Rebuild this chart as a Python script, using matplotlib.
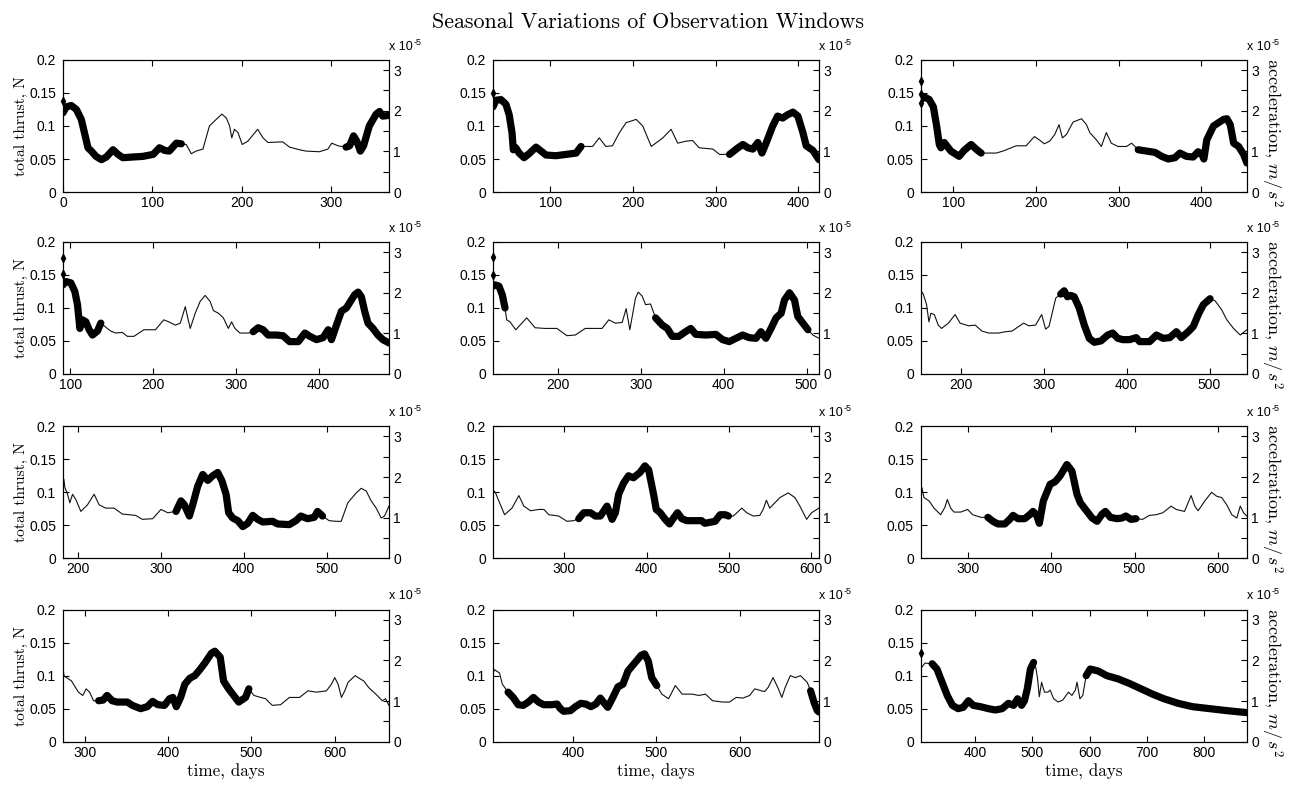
import numpy as np
import matplotlib
matplotlib.use('Agg')
import matplotlib.pyplot as plt
from matplotlib.ticker import MultipleLocator

plt.rcParams['font.family'] = 'Liberation Sans'
plt.rcParams['mathtext.fontset'] = 'cm'
serif = 'cmr10'

# x range of every panel, days (launch one month apart)
xlims = [(0, 365), (30.4, 425), (60.8, 455), (91.3, 485), (121.7, 515), (152.1, 545),
         (182.5, 575), (212.9, 610), (243.3, 635), (273.8, 665), (304.2, 695), (305, 875)]

# observation windows (drawn thick), days
win_a = [(0, 137), (316, 502), (685, 900)]
win_b = [(0, 137), (316, 502), (594, 900)]
windows = [win_a] * 11 + [win_b]

t1 = [0, 3.7, 9.3, 15, 20.5, 24, 28, 31.7, 37, 43, 48.5, 56, 61.6, 67, 78, 89.5, 101, 108, 114, 119,
      127, 132.5, 138, 143.7, 149, 156.7, 164, 171.6, 178, 183, 186.6, 189, 192, 196, 200.7, 207, 218, 224, 229.5, 246,
      253.7, 265, 272, 287, 296.6, 301, 308, 317, 321, 325.4, 329, 333, 336.6, 343, 350.7, 354.5, 358, 365]
f1 = [0.12, 0.129, 0.131, 0.125, 0.11, 0.09, 0.067, 0.062, 0.054, 0.049, 0.053, 0.064, 0.057, 0.052, 0.053, 0.054, 0.057, 0.067, 0.063, 0.062,
      0.074, 0.073, 0.072, 0.058, 0.062, 0.065, 0.1, 0.11, 0.118, 0.112, 0.1, 0.082, 0.095, 0.09, 0.072, 0.077, 0.095, 0.082, 0.075, 0.076,
      0.068, 0.064, 0.062, 0.061, 0.065, 0.074, 0.07, 0.068, 0.07, 0.085, 0.077, 0.062, 0.07, 0.1, 0.118, 0.122, 0.115, 0.116]
s1 = [0.138]

t2 = [30.4, 34, 40, 46, 50, 53.4, 55, 58, 62, 68, 74, 82.5, 88.6, 94.6, 106.7, 119, 131, 137, 151, 159,
      167, 175, 183.5, 191.5, 203.7, 211.7, 222, 236, 246, 254, 264, 272, 280, 296.6, 304.6, 316.8, 327, 333, 339, 345,
      351, 356, 361, 369, 375, 381, 387, 393.5, 399.5, 405.6, 409.6, 417.7, 425]
f2 = [0.129, 0.139, 0.14, 0.133, 0.117, 0.09, 0.064, 0.067, 0.059, 0.052, 0.058, 0.068, 0.062, 0.056, 0.055, 0.057, 0.059, 0.069, 0.069, 0.082,
      0.069, 0.07, 0.09, 0.105, 0.11, 0.1, 0.069, 0.082, 0.095, 0.074, 0.077, 0.078, 0.067, 0.065, 0.057, 0.057, 0.067, 0.072, 0.067, 0.065,
      0.075, 0.059, 0.074, 0.1, 0.115, 0.112, 0.117, 0.121, 0.115, 0.09, 0.07, 0.063, 0.049]
s2 = [0.15]

t3 = [60.8, 64.9, 70.9, 75.8, 79.8, 83, 85, 89, 97, 107, 113, 121.5, 127.5, 133.6, 145.7, 151.8, 160, 176, 188, 198,
      204, 210, 216.5, 222.6, 227.8, 231.9, 236.7, 244.8, 255, 261, 265, 273, 279, 285, 291, 299, 309.5, 315.6, 323.6, 333.8,
      343.9, 352, 360, 368, 374, 382, 390, 396, 400.5, 403, 406.5, 414.6, 420.7, 426.8, 430.8, 434.9, 439, 445, 451, 455]
f3 = [0.14, 0.144, 0.14, 0.129, 0.1, 0.072, 0.067, 0.075, 0.062, 0.054, 0.063, 0.072, 0.065, 0.059, 0.059, 0.059, 0.062, 0.07, 0.07, 0.084,
      0.079, 0.073, 0.077, 0.087, 0.102, 0.082, 0.087, 0.106, 0.111, 0.102, 0.09, 0.079, 0.069, 0.09, 0.074, 0.069, 0.069, 0.074, 0.064, 0.062,
      0.06, 0.054, 0.05, 0.052, 0.059, 0.054, 0.053, 0.061, 0.057, 0.05, 0.079, 0.1, 0.105, 0.11, 0.111, 0.102, 0.074, 0.069, 0.057, 0.044]
s3 = [0.168, 0.148, 0.135]

t4 = [91.3, 94.8, 100.8, 105.6, 108.8, 111.7, 114.9, 118.9, 122.9, 126.9, 132.9, 137, 140.9, 148.9, 155, 163, 169, 177, 189, 203,
      213, 219, 227, 233, 239, 242, 245, 251, 257, 263, 269, 273, 279, 285, 291, 295, 299, 305, 315, 321,
      327, 333, 339, 349, 357, 365, 375.5, 383.5, 389.5, 397.5, 405.5, 411.6, 415.6, 421.6, 427.6, 433.6, 439.6, 443.6, 447.7, 451.7,
      455.7, 459.7, 465.7, 471.7, 477.7, 485]
f4 = [0.135, 0.14, 0.138, 0.125, 0.105, 0.069, 0.082, 0.079, 0.067, 0.059, 0.065, 0.077, 0.073, 0.065, 0.062, 0.063, 0.057, 0.057, 0.067, 0.067,
      0.082, 0.079, 0.074, 0.077, 0.102, 0.085, 0.069, 0.092, 0.11, 0.119, 0.11, 0.096, 0.092, 0.085, 0.069, 0.079, 0.069, 0.062, 0.062, 0.064,
      0.07, 0.067, 0.059, 0.059, 0.058, 0.049, 0.049, 0.062, 0.057, 0.052, 0.055, 0.067, 0.052, 0.074, 0.095, 0.1, 0.112, 0.12, 0.124, 0.117,
      0.095, 0.077, 0.069, 0.059, 0.052, 0.047]
s4 = [0.176, 0.152]

t5 = [121.7, 124, 128.9, 132.9, 136.2, 138.2, 142.2, 149.1, 162.4, 172.5, 184.6, 198.8, 210.9, 221, 233, 253.3, 261.4, 269.4, 277.5, 282.4,
      286.8, 293.7, 296.9, 301.7, 305.8, 311.8, 317.9, 326, 332, 338, 346, 354, 360.3, 366.4, 378.5, 390.6, 398.7, 406.8, 414.8, 422.9,
      431, 439, 445, 451, 457.2, 463.3, 469.4, 473.4, 479.5, 485.5, 489.5, 495.6, 501.7, 507.7, 515]
f5 = [0.133, 0.135, 0.133, 0.12, 0.1, 0.082, 0.079, 0.067, 0.085, 0.07, 0.069, 0.069, 0.058, 0.059, 0.069, 0.069, 0.082, 0.077, 0.078, 0.099,
      0.067, 0.115, 0.124, 0.118, 0.105, 0.106, 0.085, 0.074, 0.069, 0.057, 0.057, 0.064, 0.069, 0.06, 0.059, 0.06, 0.052, 0.049, 0.054, 0.059,
      0.055, 0.054, 0.064, 0.054, 0.069, 0.085, 0.092, 0.112, 0.123, 0.112, 0.087, 0.077, 0.067, 0.059, 0.054]
s5 = [0.177, 0.15]

t6 = [152.1, 154.9, 158.9, 161.7, 164.2, 168.2, 173, 177, 185.2, 193.3, 199.3, 209.4, 217.5, 225.6, 233.7, 245.8, 254, 262, 270, 276,
      282, 290.3, 297.6, 302.4, 306.5, 314.6, 320.6, 324.7, 328.7, 332.8, 336.8, 342.9, 349, 355, 361, 369, 377.3, 383.3, 389.4, 395.5,
      403.5, 411.6, 415.7, 427.8, 435.9, 444, 452, 460, 466, 474.3, 480.4, 486.4, 492.5, 500.6, 506.6, 514.7, 520.8, 528.9, 537, 545]
f6 = [0.126, 0.121, 0.105, 0.079, 0.092, 0.09, 0.074, 0.069, 0.077, 0.09, 0.077, 0.073, 0.074, 0.065, 0.062, 0.062, 0.064, 0.065, 0.072, 0.077,
      0.073, 0.074, 0.09, 0.068, 0.072, 0.115, 0.121, 0.126, 0.117, 0.119, 0.117, 0.1, 0.074, 0.054, 0.048, 0.05, 0.059, 0.062, 0.054, 0.052,
      0.052, 0.055, 0.049, 0.049, 0.059, 0.054, 0.055, 0.064, 0.055, 0.064, 0.072, 0.09, 0.105, 0.114, 0.111, 0.097, 0.082, 0.069, 0.059, 0.067]
s6 = []

t7 = [182.5, 183.5, 184.8, 188, 190.8, 194, 198, 204, 212, 220, 226, 234, 244, 254, 270, 278, 290.5, 300.5, 308.6, 318.6,
      324.6, 328.7, 334.7, 338.7, 344.7, 350.8, 356.8, 362.8, 368.8, 374, 378.9, 382, 386.9, 393, 399, 405, 411, 417, 423, 435,
      441, 455, 463, 469, 477, 485, 489, 495, 503, 511.5, 517.5, 525.5, 535.6, 541.6, 547.6, 553.6, 559.7, 565.7, 569.7, 575]
f7 = [0.12, 0.12, 0.107, 0.097, 0.084, 0.097, 0.089, 0.071, 0.081, 0.097, 0.081, 0.076, 0.076, 0.067, 0.065, 0.059, 0.06, 0.074, 0.069, 0.071,
      0.087, 0.081, 0.064, 0.081, 0.109, 0.127, 0.118, 0.125, 0.13, 0.117, 0.097, 0.069, 0.061, 0.057, 0.048, 0.053, 0.065, 0.059, 0.055, 0.056,
      0.052, 0.051, 0.057, 0.064, 0.06, 0.062, 0.071, 0.064, 0.057, 0.056, 0.056, 0.084, 0.099, 0.106, 0.102, 0.087, 0.076, 0.061, 0.064, 0.079]
s7 = []

t8 = [212.9, 216, 220, 227, 236, 244.4, 250.5, 258.6, 268.8, 274.8, 281, 293, 303, 311, 317.4, 323.5, 331.6, 337.6, 343.7, 351.8,
      358, 362, 366, 372, 378, 384, 392, 398, 402.5, 408.5, 411.8, 416.6, 422.7, 428, 432.9, 437.7, 443, 449, 461, 467,
      471, 483.5, 489.6, 495.7, 499.7, 505.8, 516, 522, 530, 538, 542, 546, 550, 562.5, 572.6, 580.7, 586.8, 595, 601, 610]
f8 = [0.104, 0.099, 0.087, 0.066, 0.076, 0.095, 0.079, 0.072, 0.074, 0.074, 0.066, 0.064, 0.056, 0.057, 0.06, 0.069, 0.069, 0.064, 0.064, 0.079,
      0.059, 0.069, 0.097, 0.114, 0.125, 0.122, 0.13, 0.14, 0.134, 0.097, 0.074, 0.069, 0.059, 0.052, 0.061, 0.069, 0.06, 0.057, 0.057, 0.057,
      0.053, 0.056, 0.066, 0.066, 0.064, 0.064, 0.076, 0.069, 0.064, 0.065, 0.074, 0.088, 0.076, 0.092, 0.099, 0.092, 0.079, 0.059, 0.069, 0.076]
s8 = []

t9 = [243.3, 244.5, 246.9, 253, 259, 267, 272, 275, 279, 283, 291, 299.4, 305.5, 315.6, 323.7, 329.8, 335.8, 344, 350, 354,
      360, 368, 374, 378, 382, 385.6, 390.4, 398.5, 404.6, 410.6, 418.7, 424.8, 430.8, 434.9, 441, 449, 455, 461, 465, 471,
      479, 485, 489.5, 495.6, 501.6, 509.7, 517.8, 525.9, 534, 544, 550, 560, 568, 572.4, 576.4, 584.5, 592.6, 598.7, 604.7, 610.8,
      616.9, 622.9, 627, 631, 635]
f9 = [0.109, 0.107, 0.092, 0.087, 0.076, 0.066, 0.077, 0.089, 0.076, 0.07, 0.07, 0.074, 0.066, 0.062, 0.062, 0.056, 0.052, 0.052, 0.059, 0.065,
      0.06, 0.06, 0.066, 0.071, 0.066, 0.053, 0.087, 0.112, 0.116, 0.125, 0.142, 0.132, 0.097, 0.084, 0.074, 0.061, 0.056, 0.067, 0.071, 0.062,
      0.06, 0.061, 0.064, 0.059, 0.06, 0.059, 0.065, 0.066, 0.069, 0.079, 0.074, 0.071, 0.095, 0.079, 0.072, 0.087, 0.1, 0.094, 0.092, 0.081,
      0.066, 0.061, 0.079, 0.069, 0.064]
s9 = []

t10 = [273.8, 275, 278, 284, 292.3, 297.6, 301.6, 305.7, 310.5, 316.6, 321.9, 326.7, 332.8, 338.9, 351, 357, 367, 375, 381.4, 387.5,
       395.6, 401.7, 405.7, 409.8, 415, 420, 426, 432, 438, 444, 452, 456, 462.5, 466.5, 472.6, 478.7, 484.7, 492.9, 496.9, 503,
       511, 517, 525, 535, 545.5, 557.7, 567.8, 578, 590, 596, 600, 604, 608, 612, 616, 624.5, 630.6, 634.7, 640.7, 650.9,
       657, 661, 665]
f10 = [0.112, 0.1, 0.097, 0.092, 0.075, 0.07, 0.08, 0.075, 0.062, 0.062, 0.063, 0.07, 0.062, 0.06, 0.06, 0.055, 0.05, 0.053, 0.061, 0.056,
       0.055, 0.065, 0.067, 0.053, 0.067, 0.087, 0.096, 0.1, 0.109, 0.119, 0.134, 0.137, 0.128, 0.092, 0.08, 0.07, 0.06, 0.067, 0.08, 0.07,
       0.067, 0.065, 0.055, 0.056, 0.067, 0.067, 0.077, 0.075, 0.077, 0.087, 0.097, 0.087, 0.067, 0.077, 0.09, 0.1, 0.095, 0.092, 0.082, 0.07,
       0.062, 0.065, 0.055]
s10 = []

t11 = [304.2, 306, 312, 315.4, 322.3, 328.4, 334.4, 340.5, 346.6, 352.7, 358.8, 364.8, 375, 381, 385, 389, 397, 403, 409.4, 415.5,
       421.6, 427.6, 432.9, 437.8, 441.8, 447.9, 454, 460, 466, 474, 482, 486, 490.4, 494.5, 500.6, 506.6, 514.7, 522.8, 531, 543,
       551, 559, 567.4, 579.6, 587.7, 595.8, 603.9, 612, 618, 626, 630, 634, 640, 646.4, 650.5, 654.5, 660.6, 666.7, 672.8, 680.9,
       685, 689, 693, 695]
f11 = [0.104, 0.109, 0.104, 0.087, 0.075, 0.067, 0.056, 0.055, 0.06, 0.067, 0.06, 0.056, 0.056, 0.057, 0.05, 0.046, 0.047, 0.053, 0.058, 0.057,
       0.053, 0.057, 0.066, 0.058, 0.052, 0.067, 0.083, 0.087, 0.107, 0.119, 0.131, 0.133, 0.122, 0.097, 0.085, 0.072, 0.065, 0.085, 0.072, 0.072,
       0.07, 0.072, 0.062, 0.06, 0.06, 0.067, 0.066, 0.07, 0.08, 0.077, 0.076, 0.082, 0.097, 0.08, 0.067, 0.082, 0.1, 0.097, 0.1, 0.09,
       0.077, 0.06, 0.047, 0.045]
s11 = []

t12 = [305, 312, 324.6, 333, 342, 351, 360, 370, 379, 388, 396.5, 409, 423, 435, 447, 458, 467, 474, 481, 486,
       491, 496.5, 502, 506, 509, 512, 516, 521, 527, 531, 537, 545, 553, 563, 569, 575, 578, 583, 588, 594,
       601, 615, 630, 650, 670, 690, 710, 730, 755, 780, 810, 840, 875]
f12 = [0.111, 0.119, 0.118, 0.11, 0.09, 0.07, 0.055, 0.05, 0.052, 0.062, 0.055, 0.053, 0.05, 0.048, 0.05, 0.058, 0.055, 0.065, 0.055, 0.062,
       0.08, 0.11, 0.12, 0.112, 0.095, 0.068, 0.09, 0.075, 0.075, 0.078, 0.065, 0.06, 0.063, 0.075, 0.07, 0.078, 0.09, 0.065, 0.07, 0.1,
       0.11, 0.107, 0.1, 0.095, 0.088, 0.08, 0.072, 0.065, 0.058, 0.053, 0.05, 0.047, 0.044]
s12 = [0.134]

times = [t1, t2, t3, t4, t5, t6, t7, t8, t9, t10, t11, t12]
thrust = [f1, f2, f3, f4, f5, f6, f7, f8, f9, f10, f11, f12]
stars = [s1, s2, s3, s4, s5, s6, s7, s8, s9, s10, s11, s12]

fig = plt.figure(figsize=(12.96, 7.86), dpi=100)
lefts = [0.0486, 0.3804, 0.7106]
bottoms = [0.7557, 0.5242, 0.2897, 0.0564]
w, h = 0.2515, 0.168

for i in range(12):
    r, c = divmod(i, 3)
    ax = fig.add_axes([lefts[c], bottoms[r], w, h])
    t = np.array(times[i])
    f = np.array(thrust[i])
    assert len(t) == len(f), i
    ax.plot(t, f, '-', color='#111111', lw=0.8)
    for a, b in windows[i]:
        m = (t >= a) & (t <= b)
        if m.sum() > 1:
            ax.plot(t[m], f[m], 'k-', lw=5.2, solid_capstyle='round', solid_joinstyle='round')
    if stars[i]:
        ax.plot([xlims[i][0]] * len(stars[i]), stars[i], 'kd', ms=4, clip_on=False)
    ax.set_xlim(xlims[i])
    ax.set_ylim(0, 0.2)
    ax.xaxis.set_major_locator(MultipleLocator(100))
    ax.set_yticks([0, 0.05, 0.1, 0.15, 0.2])
    ax.set_yticklabels(['0', '0.05', '0.1', '0.15', '0.2'])

    ax2 = ax.twinx()
    ax2.set_ylim(0, 3.25)
    ax2.set_yticks([0, 1, 2, 3])
    ax2.yaxis.set_minor_locator(MultipleLocator(0.5))
    ax.tick_params(direction='in', length=4, width=0.8, labelsize=10, top=True, right=False)
    ax.tick_params(axis='y', pad=5)
    ax.tick_params(axis='x', pad=3)
    ax2.tick_params(which='both', direction='in', length=4, width=0.8, labelsize=10, pad=3)
    for sp in ax.spines.values():
        sp.set_linewidth(0.8)
    ax2.text(1.0, 1.055, 'x 10', transform=ax2.transAxes, fontsize=9, ha='left', va='bottom')
    ax2.text(1.075, 1.10, '-5', transform=ax2.transAxes, fontsize=6.5, ha='left', va='bottom')

    if c == 0:
        ax.set_ylabel('total thrust, N', family=serif, fontsize=11.2, labelpad=1)
    if c == 2:
        ax2.set_ylabel(r'acceleration, $m/\,s^2$', family=serif, fontsize=13, rotation=270)
        ax2.yaxis.set_label_coords(1.115, 0.45)
    if r == 3:
        ax.set_xlabel('time, days', family=serif, fontsize=12.3, labelpad=3)

fig.text(0.5, 1 - 22 / 786, 'Seasonal Variations of Observation Windows', family=serif,
         fontsize=15.8, ha='center', va='center')

fig.savefig('out.png', dpi=100)
